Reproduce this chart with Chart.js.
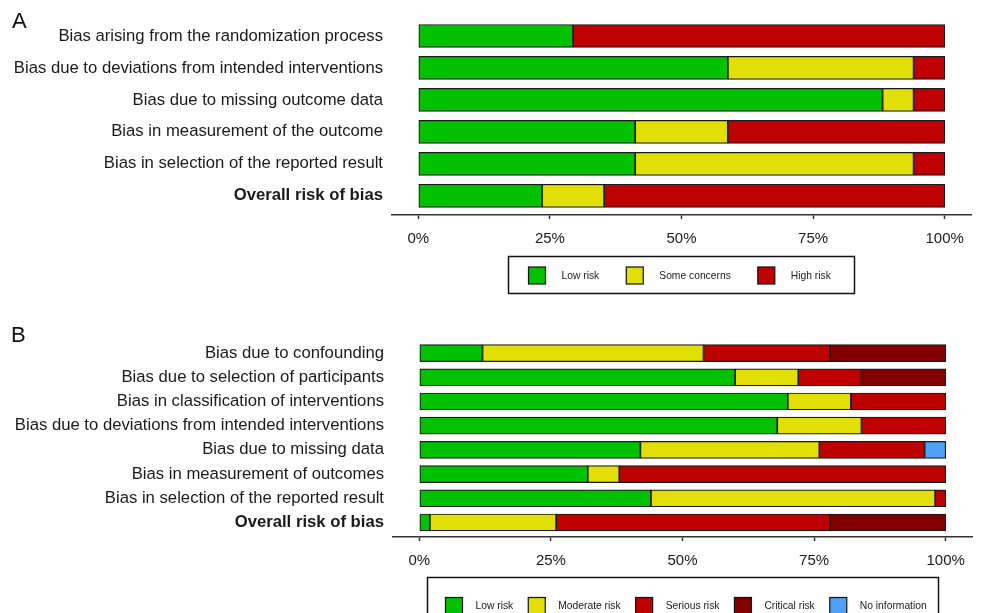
<!DOCTYPE html>
<html>
<head>
<meta charset="utf-8">
<title>Risk of bias summary</title>
<script src="https://cdn.jsdelivr.net/npm/chart.js@4/dist/chart.umd.min.js"></script>
<style>
  html, body { margin: 0; padding: 0; background: #ffffff; }
  body { width: 981px; height: 613px; position: relative; overflow: hidden; }
  canvas { position: absolute; left: 0; display: block; }
  #chartA { top: 0; }
  #chartB { top: 306px; }
</style>
</head>
<body>
<canvas id="chartA" width="981" height="306"></canvas>
<canvas id="chartB" width="981" height="307"></canvas>
<script>
// Panel A: RoB 2 domains, percentage of studies per judgement
const domainsA = [
  'Bias arising from the randomization process',
  'Bias due to deviations from intended interventions',
  'Bias due to missing outcome data',
  'Bias in measurement of the outcome',
  'Bias in selection of the reported result',
  'Overall risk of bias'
];
const lowA  = [29.4, 58.8, 88.2, 41.2, 41.2, 23.5];
const someA = [0,    35.3,  5.9, 17.6, 52.9, 11.8];
const highA = [70.6,  5.9,  5.9, 41.2,  5.9, 64.7];

// Panel B: ROBINS-I domains, percentage of studies per judgement
const domainsB = [
  'Bias due to confounding',
  'Bias due to selection of participants',
  'Bias in classification of interventions',
  'Bias due to deviations from intended interventions',
  'Bias due to missing data',
  'Bias in measurement of outcomes',
  'Bias in selection of the reported result',
  'Overall risk of bias'
];
const lowB      = [12, 60, 70, 68, 42, 32, 44,  2];
const moderateB = [42, 12, 12, 16, 34,  6, 54, 24];
const seriousB  = [24, 12, 18, 16, 20, 62,  2, 52];
const criticalB = [22, 16,  0,  0,  0,  0,  0, 22];
const noInfoB   = [ 0,  0,  0,  0,  4,  0,  0,  0];

const percentTicks = [0, 25, 50, 75, 100];

const FONT = '"Liberation Sans", Arial, Helvetica, sans-serif';
const INK = '#1a1a1a';
const COLORS = {
  low: '#02C100',
  some: '#E2DF07',
  high: '#BF0000',
  critical: '#820000',
  noinfo: '#4EA1F7'
};

Chart.defaults.font.family = FONT;
Chart.defaults.color = INK;

// one bar segment per domain; empty judgements are left out
function segments(values) {
  return values.map((v, i) => ({ x: v === 0 ? null : v, y: i }));
}

function series(label, values, color, thickness) {
  return {
    label: label,
    data: segments(values),
    backgroundColor: color,
    borderColor: '#1a1a1a',
    borderWidth: 1.2,
    borderSkipped: false,
    barThickness: thickness
  };
}

// framed legend row under the plot
const boxLegend = {
  id: 'boxLegend',
  afterDraw(chart, args, o) {
    const { ctx, chartArea } = chart;
    ctx.save();
    ctx.font = o.fontSize + 'px ' + FONT;
    const items = chart.data.datasets.map(ds => ({
      label: ds.label,
      color: ds.backgroundColor,
      w: ctx.measureText(ds.label).width
    }));
    const s = o.swatch;
    let width = o.padLeft + o.padRight + o.itemGap * (items.length - 1);
    items.forEach(it => { width += s + o.textGap + it.w; });
    const cx = (chartArea.left + chartArea.right) / 2;
    const left = Math.round(cx - width / 2) + 0.5;
    const top = Math.round(chartArea.bottom + o.offset) + 0.5;
    ctx.lineWidth = 1.5;
    ctx.strokeStyle = '#111';
    ctx.strokeRect(left, top, Math.round(width), o.height);
    const cy = top + o.swatchMid;
    let x = left + o.padLeft;
    items.forEach(it => {
      ctx.fillStyle = it.color;
      ctx.fillRect(x, cy - s / 2, s, s);
      ctx.lineWidth = 1.2;
      ctx.strokeStyle = '#111';
      ctx.strokeRect(x, cy - s / 2, s, s);
      ctx.fillStyle = INK;
      ctx.textAlign = 'left';
      ctx.textBaseline = 'middle';
      ctx.fillText(it.label, x + s + o.textGap, cy + 0.5);
      x += s + o.textGap + it.w + o.itemGap;
    });
    ctx.restore();
  }
};

// panel letter in the top-left corner
const panelLetter = {
  id: 'panelLetter',
  afterDraw(chart, args, o) {
    const ctx = chart.ctx;
    ctx.save();
    ctx.font = o.size + 'px ' + FONT;
    ctx.fillStyle = '#111';
    ctx.textAlign = 'left';
    ctx.textBaseline = 'alphabetic';
    ctx.fillText(o.text, o.x, o.y);
    ctx.restore();
  }
};

function makeOptions(domains, cfg) {
  const last = domains.length - 1;
  return {
    indexAxis: 'y',
    responsive: false,
    animation: false,
    devicePixelRatio: 1,
    layout: { padding: { left: 0, right: cfg.padRight, top: cfg.padTop, bottom: cfg.padBottom } },
    plugins: {
      legend: { display: false },
      tooltip: { enabled: false },
      boxLegend: cfg.legend,
      panelLetter: cfg.letter
    },
    scales: {
      x: {
        type: 'linear',
        stacked: true,
        min: -5,
        max: 105,
        afterBuildTicks: axis => { axis.ticks = percentTicks.map(v => ({ value: v })); },
        afterFit: axis => { axis.height = 41; },
        grid: { display: true, drawOnChartArea: false, drawTicks: true, tickLength: 4, tickWidth: 1.5, color: '#333' },
        border: { display: true, color: '#333', width: 1.5 },
        ticks: {
          padding: 11,
          color: INK,
          autoSkip: false,
          maxRotation: 0,
          font: { size: 15 },
          callback: v => v + '%'
        }
      },
      y: {
        type: 'linear',
        stacked: true,
        reverse: true,
        offset: false,
        min: -0.5,
        max: cfg.yMax,
        afterBuildTicks: axis => { axis.ticks = domains.map((_, i) => ({ value: i })); },
        afterFit: axis => { axis.width = cfg.axisWidth; },
        grid: { display: false, drawTicks: false },
        border: { display: false },
        ticks: {
          padding: 9,
          color: INK,
          autoSkip: false,
          font: ctx => ({ size: 16.7, weight: ctx.index === last ? 'bold' : 'normal' }),
          callback: v => domains[v]
        }
      }
    }
  };
}

new Chart(document.getElementById('chartA'), {
  type: 'bar',
  data: {
    datasets: [
      series('Low risk', lowA, COLORS.low, 23),
      series('Some concerns', someA, COLORS.some, 23),
      series('High risk', highA, COLORS.high, 23)
    ]
  },
  options: makeOptions(domainsA, {
    padRight: 10, padTop: 20, padBottom: 50, yMax: 5.6, axisWidth: 392,
    legend: { fontSize: 10.3, swatch: 17, textGap: 16, itemGap: 27, padLeft: 20, padRight: 24, offset: 41, height: 37, swatchMid: 19 },
    letter: { text: 'A', x: 12, y: 28, size: 22 }
  }),
  plugins: [boxLegend, panelLetter]
});

new Chart(document.getElementById('chartB'), {
  type: 'bar',
  data: {
    datasets: [
      series('Low risk', lowB, COLORS.low, 17),
      series('Moderate risk', moderateB, COLORS.some, 17),
      series('Serious risk', seriousB, COLORS.high, 17),
      series('Critical risk', criticalB, COLORS.critical, 17),
      series('No information', noInfoB, COLORS.noinfo, 17)
    ]
  },
  options: makeOptions(domainsB, {
    padRight: 9, padTop: 35, padBottom: 35, yMax: 7.6, axisWidth: 393,
    legend: { fontSize: 10.3, swatch: 17, textGap: 13, itemGap: 15, padLeft: 18, padRight: 12, offset: 40, height: 57, swatchMid: 28.5 },
    letter: { text: 'B', x: 11, y: 36, size: 22 }
  }),
  plugins: [boxLegend, panelLetter]
});
</script>
</body>
</html>
